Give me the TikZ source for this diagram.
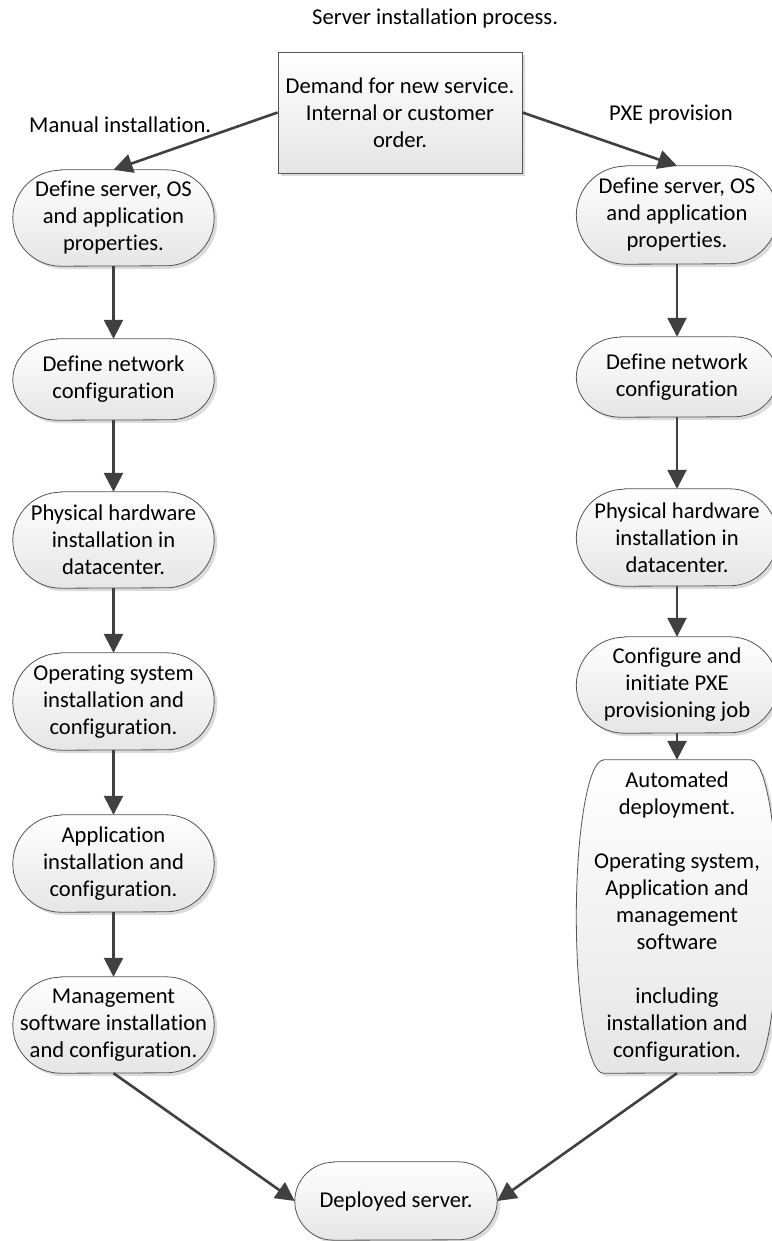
\documentclass[tikz,border=0pt]{standalone}
\usepackage{fontspec}
\setmainfont{Carlito}[Ligatures=NoCommon]
\usetikzlibrary{arrows.meta,calc,shadows}
\pgfdeclarelayer{background}
\pgfsetlayers{background,main}
\definecolor{linegray}{HTML}{404040}
\definecolor{bordergray}{HTML}{555555}
\tikzset{
  txt/.style={font=\fontsize{22.6}{27}\selectfont, inner sep=0pt, align=center, text=black},
  slot/.style={txt, minimum width=201pt},
  boxfill/.style={draw=bordergray, line width=0.8pt, top color=white, bottom color=black!10,
    drop shadow={shadow xshift=3pt, shadow yshift=-3pt, fill=black!14, opacity=1}},
  flow/.style={draw=linegray, line width=2.6pt, -{Triangle[length=19pt,width=19pt]}},
}
\newcommand{\terminal}[3]{%
  \path[boxfill] ($(#1.north west)+(#2,0)$) -- ($(#1.north east)+(-#2,0)$)
    arc[start angle=90,end angle=-90,x radius=#2pt,y radius=#3pt]
    -- ($(#1.south west)+(#2,0)$)
    arc[start angle=270,end angle=90,x radius=#2pt,y radius=#3pt] -- cycle;
}
\begin{document}
\begin{tikzpicture}[x=1pt,y=-1pt]
\useasboundingbox (0,0) rectangle (771,1241);
\clip (0,0) rectangle (771,1241);

% labels
\node[txt, anchor=west] (title) at (312,18) {Server installation process.};
\node[txt, anchor=west] (manual) at (29,125) {Manual installation.};
\node[txt, anchor=west] (pxe) at (609,115) {PXE provision};

% start box
\node[txt, boxfill, minimum width=244pt, minimum height=121pt] (demand) at (400,112.5)
  {Demand for new service.\\Internal or customer\\order.};

% left column
\node[slot, minimum height=96pt] (l1) at (113.5,218) {Define server, OS\\and application\\properties.};
\node[slot, minimum height=81pt] (l2) at (113.5,379.5) {Define network\\configuration};
\node[slot, minimum height=96pt] (l3) at (113.5,540) {Physical hardware\\installation in\\datacenter.};
\node[slot, minimum height=97pt] (l4) at (113.5,701.5) {Operating system\\installation and\\configuration.};
\node[slot, minimum height=97pt] (l5) at (113.5,863.5) {Application\\installation and\\configuration.};
\node[slot, minimum height=96pt] (l6) at (113.5,1025) {Management\\software installation\\and configuration.};

% right column
\node[slot, minimum height=98pt] (r1) at (677,215) {Define server, OS\\and application\\properties.};
\node[slot, minimum height=80pt] (r2) at (677,377) {Define network\\configuration};
\node[slot, minimum height=97pt] (r3) at (677,537.5) {Physical hardware\\installation in\\datacenter.};
\node[slot, minimum height=96pt] (r4) at (677,685) {Configure and\\initiate PXE\\provisioning job};
\node[slot, minimum height=313pt] (r5) at (677,916.5) {Automated\\deployment.\\[27pt]Operating system,\\Application and\\management\\software\\[27pt]including\\installation and\\configuration.};

% end
\node[txt, minimum width=202pt, minimum height=78pt] (dep) at (396,1201) {Deployed server.};

\begin{pgfonlayer}{background}
  \terminal{l1}{48}{48}
  \terminal{l2}{44}{40.5}
  \terminal{l3}{48}{48}
  \terminal{l4}{48}{48.5}
  \terminal{l5}{48}{48.5}
  \terminal{l6}{48}{48}
  \terminal{r1}{49}{49}
  \terminal{r2}{44}{40}
  \terminal{r3}{48}{48.5}
  \terminal{r4}{48}{48}
  \terminal{r5}{27}{156.5}
  \terminal{dep}{39}{39}
\end{pgfonlayer}

% connectors
\draw[flow] (demand.west) -- (l1.north);
\draw[flow] (demand.east) -- (r1.north);
\draw[flow] (l1.south) -- (l2.north);
\draw[flow] (l2.south) -- (l3.north);
\draw[flow] (l3.south) -- (l4.north);
\draw[flow] (l4.south) -- (l5.north);
\draw[flow] (l5.south) -- (l6.north);
\draw[flow] (r1.south) -- (r2.north);
\draw[flow] (r2.south) -- (r3.north);
\draw[flow] (r3.south) -- (r4.north);
\draw[flow] (r4.south) -- (r5.north);
\draw[flow] (l6.south) -- (dep.west);
\draw[flow] (r5.south) -- (dep.east);
\end{tikzpicture}
\end{document}
